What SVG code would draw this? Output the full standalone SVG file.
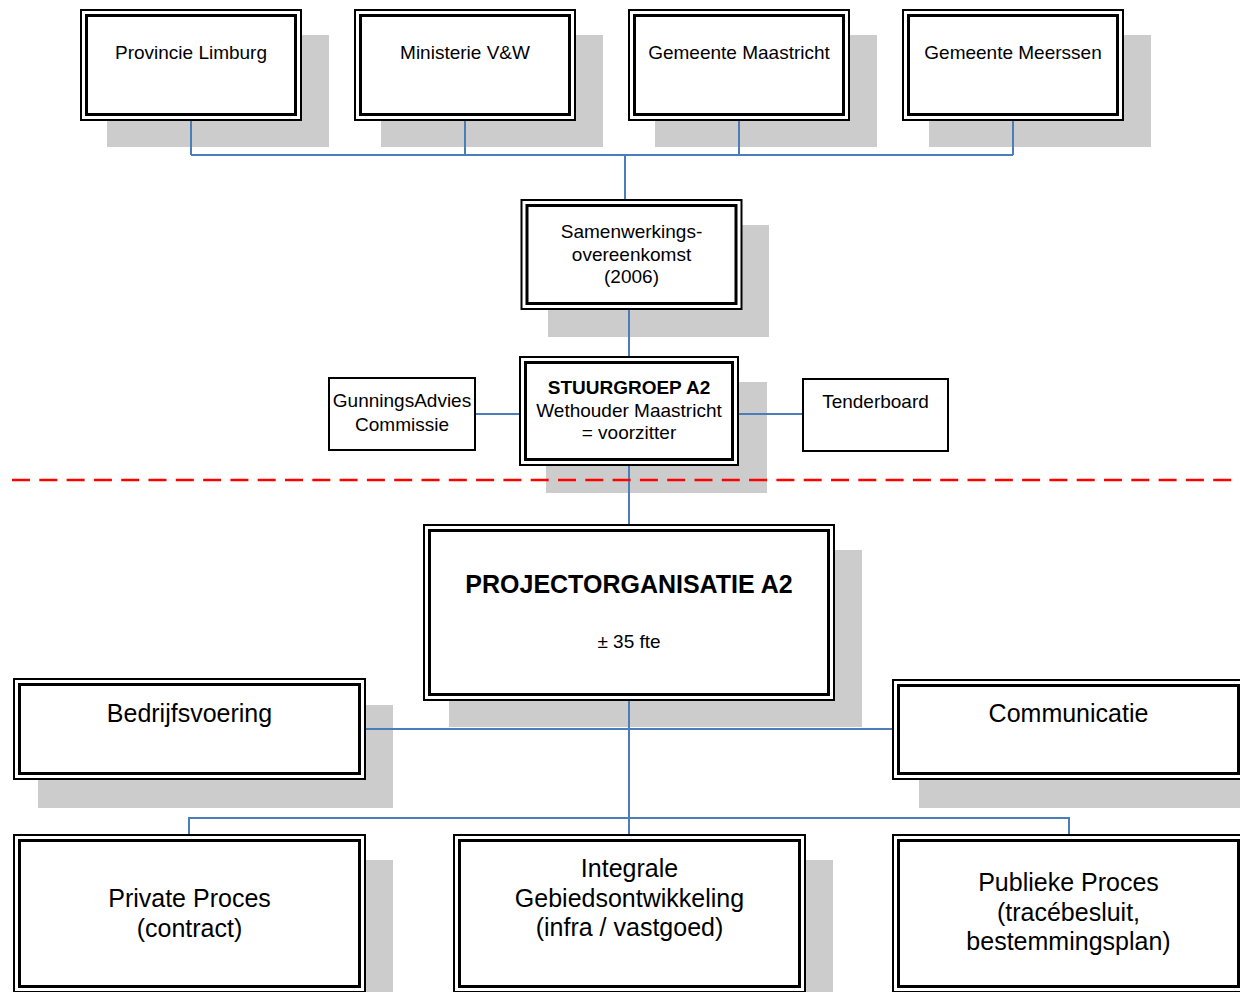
<svg xmlns="http://www.w3.org/2000/svg" width="1240" height="992" viewBox="0 0 1240 992">
<style>
  .shadow { fill: #cccccc; stroke: none; }
  .outer { fill: #ffffff; stroke: #000000; stroke-width: 2; }
  .inner { fill: none; stroke: #000000; stroke-width: 3; }
  .single { fill: #ffffff; stroke: #000000; stroke-width: 2; }
  .t { font-family: "Liberation Sans", Arial, sans-serif; fill: #000000; text-anchor: middle; }
  .s { font-size: 19px; }
  .l { font-size: 25px; }
  .b { font-weight: bold; }
  .conn { fill: none; stroke: #4A7EBB; stroke-width: 2; }
  .divider { fill: none; stroke: #FF0000; stroke-width: 2.5; stroke-dasharray: 18 9.3; }
</style>
<rect width="1240" height="992" fill="#ffffff"/>

<g id="provincie-limburg">
  <rect class="shadow" x="107" y="35" width="222" height="112"/>
  <rect class="outer" x="81" y="10" width="220" height="110"/>
  <rect class="inner" x="86.5" y="15.5" width="209" height="99"/>
  <text class="t s" x="191" y="59">Provincie Limburg</text>
</g>
<g id="ministerie-vw">
  <rect class="shadow" x="381" y="35" width="222" height="112"/>
  <rect class="outer" x="355" y="10" width="220" height="110"/>
  <rect class="inner" x="360.5" y="15.5" width="209" height="99"/>
  <text class="t s" x="465" y="59">Ministerie V&amp;W</text>
</g>
<g id="gemeente-maastricht">
  <rect class="shadow" x="655" y="35" width="222" height="112"/>
  <rect class="outer" x="629" y="10" width="220" height="110"/>
  <rect class="inner" x="634.5" y="15.5" width="209" height="99"/>
  <text class="t s" x="739" y="59">Gemeente Maastricht</text>
</g>
<g id="gemeente-meerssen">
  <rect class="shadow" x="929" y="35" width="222" height="112"/>
  <rect class="outer" x="903" y="10" width="220" height="110"/>
  <rect class="inner" x="908.5" y="15.5" width="209" height="99"/>
  <text class="t s" x="1013" y="59">Gemeente Meerssen</text>
</g>

<g id="samenwerkingsovereenkomst">
  <rect class="shadow" x="548" y="225" width="221" height="112"/>
  <rect class="outer" x="521.5" y="200" width="220" height="109"/>
  <rect class="inner" x="527" y="205.5" width="209" height="98"/>
  <text class="t s" x="631.5" y="238">Samenwerkings-</text>
  <text class="t s" x="631.5" y="260.5">overeenkomst</text>
  <text class="t s" x="631.5" y="283">(2006)</text>
</g>

<g id="stuurgroep">
  <rect class="shadow" x="546" y="382" width="221" height="111"/>
  <rect class="outer" x="520" y="357" width="218" height="108"/>
  <rect class="inner" x="525.5" y="362.5" width="207" height="97"/>
  <text class="t s b" x="629" y="394">STUURGROEP A2</text>
  <text class="t s" x="629" y="416.5">Wethouder Maastricht</text>
  <text class="t s" x="629" y="439">= voorzitter</text>
</g>

<g id="gunningsadviescommissie">
  <rect class="single" x="329" y="378" width="146" height="72"/>
  <text class="t s" x="402" y="407">GunningsAdvies</text>
  <text class="t s" x="402" y="431">Commissie</text>
</g>

<g id="tenderboard">
  <rect class="single" x="803" y="379" width="145" height="72"/>
  <text class="t s" x="875.5" y="408">Tenderboard</text>
</g>

<g id="projectorganisatie">
  <rect class="shadow" x="449" y="550" width="413" height="177"/>
  <rect class="outer" x="424" y="525" width="410" height="175"/>
  <rect class="inner" x="429.5" y="530.5" width="399" height="164"/>
  <text class="t l b" x="629" y="593">PROJECTORGANISATIE A2</text>
  <text class="t s" x="629" y="648">± 35 fte</text>
</g>

<g id="bedrijfsvoering">
  <rect class="shadow" x="38" y="705" width="355" height="103"/>
  <rect class="outer" x="14" y="679" width="351" height="100"/>
  <rect class="inner" x="19.5" y="684.5" width="340" height="89"/>
  <text class="t l" x="189.5" y="722">Bedrijfsvoering</text>
</g>

<g id="communicatie">
  <rect class="shadow" x="919" y="705" width="330" height="103"/>
  <rect class="outer" x="893" y="680" width="351" height="99"/>
  <rect class="inner" x="898.5" y="685.5" width="340" height="88"/>
  <text class="t l" x="1068.5" y="722">Communicatie</text>
</g>

<g id="private-proces">
  <rect class="shadow" x="38" y="860" width="355" height="140"/>
  <rect class="outer" x="14" y="835" width="351" height="157"/>
  <rect class="inner" x="19.5" y="840.5" width="340" height="146"/>
  <text class="t l" x="189.5" y="907">Private Proces</text>
  <text class="t l" x="189.5" y="936.5">(contract)</text>
</g>

<g id="integrale-gebiedsontwikkeling">
  <rect class="shadow" x="479" y="860" width="354" height="140"/>
  <rect class="outer" x="454" y="835" width="351" height="157"/>
  <rect class="inner" x="459.5" y="840.5" width="340" height="146"/>
  <text class="t l" x="629.5" y="877">Integrale</text>
  <text class="t l" x="629.5" y="906.5">Gebiedsontwikkeling</text>
  <text class="t l" x="629.5" y="936">(infra / vastgoed)</text>
</g>

<g id="publieke-proces">
  <rect class="shadow" x="919" y="860" width="330" height="140"/>
  <rect class="outer" x="893" y="835" width="351" height="157"/>
  <rect class="inner" x="898.5" y="840.5" width="340" height="146"/>
  <text class="t l" x="1068.5" y="891">Publieke Proces</text>
  <text class="t l" x="1068.5" y="920.5">(tracébesluit,</text>
  <text class="t l" x="1068.5" y="950">bestemmingsplan)</text>
</g>

<g id="connectors">
  <path class="conn" d="M191 121 V155 M465 121 V155 M739 121 V155 M1013 121 V155 M191 155 H1013 M625 155 V199"/>
  <path class="conn" d="M629 310 V356"/>
  <path class="conn" d="M476 414 H519 M739 414 H802"/>
  <path class="conn" d="M629 466 V524"/>
  <path class="conn" d="M629 701 V834"/>
  <path class="conn" d="M366 729 H892"/>
  <path class="conn" d="M189 834 V818 H1069 V834"/>
</g>

<g id="divider">
  <line class="divider" x1="12" y1="480" x2="1240" y2="480"/>
</g>
</svg>
